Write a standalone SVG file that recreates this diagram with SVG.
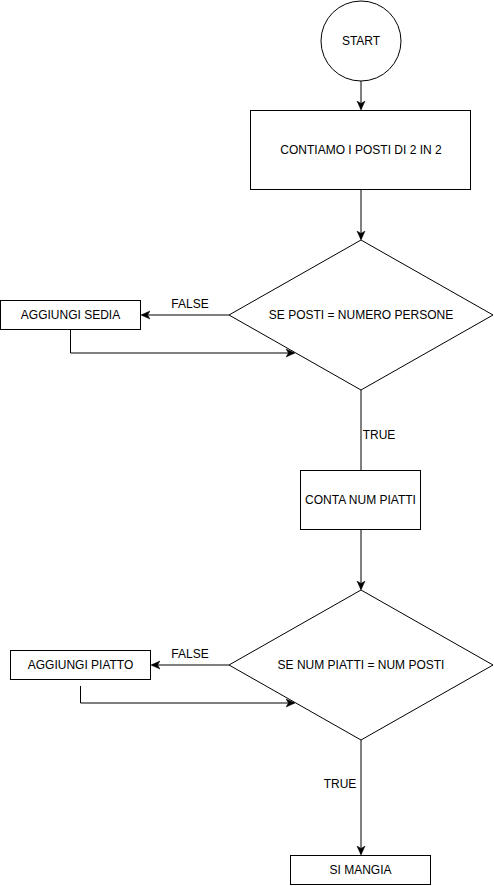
<svg xmlns="http://www.w3.org/2000/svg" width="494" height="886" viewBox="0 0 494 886">
<style>
.s{fill:#fff;stroke:#000;stroke-width:1}
.t{font-family:"Liberation Sans",Arial,sans-serif;font-size:12px;fill:#000;text-anchor:middle;dominant-baseline:central}
.c{fill:none;stroke:#000;stroke-width:1}
</style>
<defs>
<marker id="a" markerWidth="10" markerHeight="10" refX="8" refY="4" orient="auto" markerUnits="userSpaceOnUse" viewBox="0 0 10 8">
<path d="M0,0 L9,4 L0,8 L2.5,4 Z" fill="#000" stroke="#000" stroke-width="0.5"/>
</marker>
</defs>
<rect width="494" height="886" fill="#fff"/>
<g id="connectors">
<path class="c" d="M361,81 V109" marker-end="url(#a)"/>
<path class="c" d="M361,190 V239" marker-end="url(#a)"/>
<path class="c" d="M229,315 H142" marker-end="url(#a)"/>
<path class="c" d="M70.5,330 V353 H294" marker-end="url(#a)"/>
<path class="c" d="M361,390 V470"/>
<path class="c" d="M361,530 V589" marker-end="url(#a)"/>
<path class="c" d="M229,665 H152" marker-end="url(#a)"/>
<path class="c" d="M80.5,686 V703 H294" marker-end="url(#a)"/>
<path class="c" d="M361,740 V854" marker-end="url(#a)"/>
<text class="t" x="190" y="304">FALSE</text>
<text class="t" x="379" y="435">TRUE</text>
<text class="t" x="190" y="654">FALSE</text>
<text class="t" x="340" y="784">TRUE</text>
</g>
<g id="start">
<circle class="s" cx="361" cy="41" r="40"/>
<text class="t" x="361" y="41">START</text>
</g>
<g id="contiamo">
<rect class="s" x="250.5" y="110.5" width="220" height="79"/>
<text class="t" x="361" y="150">CONTIAMO I POSTI DI 2 IN 2</text>
</g>
<g id="decision1">
<path class="s" d="M361,240 L493,315 L361,390 L229,315 Z"/>
<text class="t" x="361" y="315">SE POSTI = NUMERO PERSONE</text>
</g>
<g id="aggiungi-sedia">
<rect class="s" x="0.5" y="300.5" width="140" height="29"/>
<text class="t" x="70.5" y="315">AGGIUNGI SEDIA</text>
</g>
<g id="conta-piatti">
<rect class="s" x="300.5" y="470.5" width="120" height="59"/>
<text class="t" x="360.5" y="500">CONTA NUM PIATTI</text>
</g>
<g id="decision2">
<path class="s" d="M361,590 L493,665 L361,740 L229,665 Z"/>
<text class="t" x="361" y="665">SE NUM PIATTI = NUM POSTI</text>
</g>
<g id="aggiungi-piatto">
<rect class="s" x="10.5" y="650.5" width="140" height="29"/>
<text class="t" x="80.5" y="665">AGGIUNGI PIATTO</text>
</g>
<g id="si-mangia">
<rect class="s" x="290.5" y="855.5" width="140" height="29"/>
<text class="t" x="360.5" y="870">SI MANGIA</text>
</g>
</svg>
